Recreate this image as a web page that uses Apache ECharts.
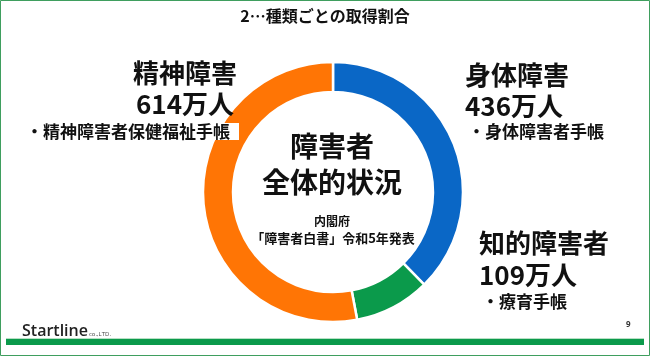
<!DOCTYPE html>
<html><head><meta charset="utf-8">
<script src="https://cdn.jsdelivr.net/npm/echarts@6/dist/echarts.min.js"></script>
<style>html,body{margin:0;padding:0;background:#fff}#c{width:650px;height:356px}</style>
</head><body><div id="c"></div>
<script>
const categories = ['身体障害', '知的障害者', '精神障害'];
const values = [436, 109, 614];
const colors = ['#0a67c6', '#0b9a4b', '#ff7505'];
const unitText = '万人';
const notes = ['・身体障害者手帳', '・療育手帳', '・精神障害者保健福祉手帳'];

const F = '"Noto Sans CJK JP", "Noto Sans", sans-serif';
const chart = echarts.init(document.getElementById('c'), null, {renderer: 'canvas'});

function txt(x, y, text, size, align, weight) {
  return {type: 'text', z: 100, x: x, y: y,
    style: {text: text, font: (weight || 'bold') + ' ' + size + 'px ' + F, fill: '#111',
      textAlign: align || 'left', textVerticalAlign: 'middle'}};
}

chart.setOption({
  animation: false,
  series: [{
    type: 'pie',
    center: [333, 192],
    radius: [100, 130],
    startAngle: 90,
    clockwise: true,
    z: 2,
    label: {show: false},
    labelLine: {show: false},
    itemStyle: {borderColor: '#fff', borderWidth: 2.5},
    emphasis: {disabled: true},
    data: categories.map((c, i) => ({name: c, value: values[i], itemStyle: {color: colors[i]}}))
  }],
  graphic: [
    {type: 'rect', z: 100, shape: {x: 0.5, y: 0.5, width: 649, height: 355}, style: {fill: null, stroke: '#3f9e5e', lineWidth: 1}},
    {type: 'rect', z: 100, shape: {x: 6, y: 339, width: 638, height: 6}, style: {fill: '#0b9a4b'}},
    {type: 'rect', z: 100, shape: {x: 6, y: 338, width: 638, height: 1}, style: {fill: '#b7e0c4'}},
    // white box behind the left note (text box fill)
    {type: 'rect', z: 90, shape: {x: 20, y: 123, width: 219, height: 17}, style: {fill: '#fff'}},
    txt(325, 16, '2…種類ごとの取得割合', 16, 'center'),
    // left label
    txt(185, 73, categories[2], 26, 'center'),
    txt(185, 104, values[2] + unitText, 26, 'center'),
    txt(128, 132, notes[2], 17, 'center'),
    // right top label
    txt(465, 75, categories[0], 26, 'left'),
    txt(465, 106, values[0] + unitText, 26, 'left'),
    txt(468, 132, notes[0], 17, 'left'),
    // right bottom label
    txt(479, 243, categories[1], 26, 'left'),
    txt(479, 275, values[1] + unitText, 26, 'left'),
    txt(482, 302, notes[1], 17, 'left'),
    // center
    txt(332, 146, '障害者', 28, 'center'),
    txt(332, 182, '全体的状況', 28, 'center'),
    txt(332, 221, '内閣府', 12, 'center'),
    txt(333, 238, '「障害者白書」令和5年発表', 13, 'center'),
    // footer
    {type: 'text', z: 100, x: 22, y: 331, style: {text: 'Startline', font: '600 16px "Open Sans", sans-serif', fill: '#222', textVerticalAlign: 'middle'}},
    {type: 'text', z: 100, x: 89, y: 334, style: {text: 'co.,LTD.', font: '6px "Open Sans", sans-serif', fill: '#444', textVerticalAlign: 'middle'}},
    {type: 'text', z: 100, x: 626, y: 325, style: {text: '9', font: 'bold 8px "Open Sans", sans-serif', fill: '#333', textVerticalAlign: 'middle'}}
  ]
});
</script></body></html>
